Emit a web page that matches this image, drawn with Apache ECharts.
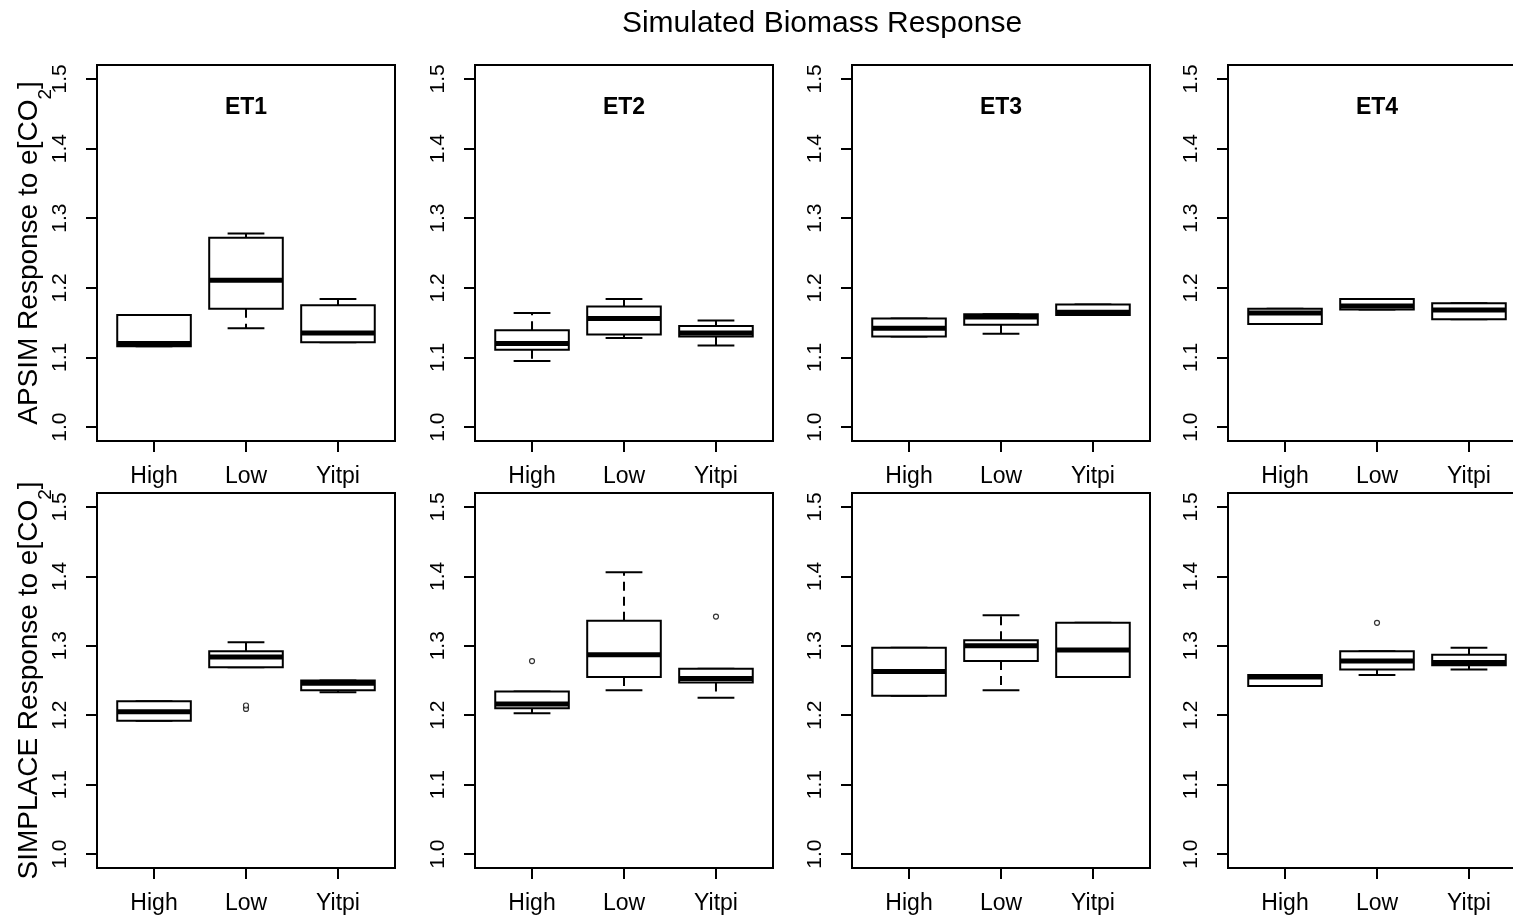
<!DOCTYPE html>
<html>
<head>
<meta charset="utf-8">
<title>Simulated Biomass Response</title>
<script src="https://cdn.jsdelivr.net/npm/echarts@6/dist/echarts.min.js"></script>
<style>
html, body { margin: 0; padding: 0; background: #fff; }
#main { width: 1513px; height: 923px; }
</style>
</head>
<body>
<div id="main"></div>
<script>
//画布
let chart = echarts.init(document.getElementById('main'));

//分组与面板
let groups = ['High', 'Low', 'Yitpi'];
let panels = ['ET1', 'ET2', 'ET3', 'ET4'];
let yTicks = [1.0, 1.1, 1.2, 1.3, 1.4, 1.5];

//箱线 [min, q1, median, q3, max]，每组一行
let apsimET1 = [[1.116, 1.116, 1.120, 1.161, 1.161], [1.142, 1.170, 1.211, 1.272, 1.278], [1.122, 1.122, 1.135, 1.175, 1.184]];
let apsimET2 = [[1.095, 1.111, 1.120, 1.139, 1.164], [1.128, 1.133, 1.156, 1.173, 1.184], [1.117, 1.130, 1.135, 1.145, 1.153]];
let apsimET3 = [[1.130, 1.130, 1.142, 1.156, 1.156], [1.134, 1.147, 1.158, 1.162, 1.162], [1.161, 1.161, 1.165, 1.176, 1.176]];
let apsimET4 = [[1.148, 1.148, 1.164, 1.170, 1.170], [1.169, 1.169, 1.174, 1.184, 1.184], [1.155, 1.155, 1.168, 1.178, 1.178]];
let simplaceET1 = [[1.192, 1.192, 1.205, 1.220, 1.220], [1.269, 1.269, 1.284, 1.292, 1.305], [1.233, 1.236, 1.246, 1.250, 1.250]];
let simplaceET2 = [[1.203, 1.210, 1.216, 1.234, 1.234], [1.236, 1.255, 1.287, 1.336, 1.406], [1.225, 1.247, 1.253, 1.267, 1.267]];
let simplaceET3 = [[1.228, 1.228, 1.263, 1.297, 1.297], [1.236, 1.278, 1.300, 1.308, 1.344], [1.255, 1.255, 1.294, 1.333, 1.333]];
let simplaceET4 = [[1.242, 1.242, 1.255, 1.258, 1.258], [1.258, 1.266, 1.278, 1.292, 1.292], [1.266, 1.272, 1.276, 1.287, 1.297]];

//离群点 [组序号, 值]
let simplaceET1Out = [[1, 1.209], [1, 1.214]];
let simplaceET2Out = [[0, 1.278], [2, 1.342]];
let simplaceET3Out = [];
let simplaceET4Out = [[1, 1.333]];
let noOut = [];

let rows = [
    {name: 'APSIM', boxes: [apsimET1, apsimET2, apsimET3, apsimET4], outs: [noOut, noOut, noOut, noOut]},
    {name: 'SIMPLACE', boxes: [simplaceET1, simplaceET2, simplaceET3, simplaceET4], outs: [simplaceET1Out, simplaceET2Out, simplaceET3Out, simplaceET4Out]}
];

//布局
let lefts = [97, 475, 852, 1228];
let tops = [65, 493];
let heights = [376, 375];
let plotWidth = 298;
let font = 'Liberation Sans, Arial, sans-serif';

//R风格箱线
function renderBox(params, api) {
    let x = api.value(0);
    let pLo = api.coord([x, api.value(1)]);
    let pQ1 = api.coord([x, api.value(2)]);
    let pMed = api.coord([x, api.value(3)]);
    let pQ3 = api.coord([x, api.value(4)]);
    let pHi = api.coord([x, api.value(5)]);
    let half = api.size([0.8, 0])[0] / 2;
    let staple = half / 2;
    let cx = pMed[0];
    let solid = {stroke: '#000', lineWidth: 2};
    let dash = {stroke: '#000', lineWidth: 2, lineDash: [9, 6]};
    return {
        type: 'group',
        children: [
            {type: 'line', shape: {x1: cx, y1: pQ3[1], x2: cx, y2: pHi[1]}, style: dash},
            {type: 'line', shape: {x1: cx, y1: pQ1[1], x2: cx, y2: pLo[1]}, style: dash},
            {type: 'line', shape: {x1: cx - staple, y1: pHi[1], x2: cx + staple, y2: pHi[1]}, style: solid},
            {type: 'line', shape: {x1: cx - staple, y1: pLo[1], x2: cx + staple, y2: pLo[1]}, style: solid},
            {type: 'rect', shape: {x: cx - half, y: pQ3[1], width: half * 2, height: pQ1[1] - pQ3[1]}, style: {fill: '#fff', stroke: '#000', lineWidth: 2}},
            {type: 'line', shape: {x1: cx - half, y1: pMed[1], x2: cx + half, y2: pMed[1]}, style: {stroke: '#000', lineWidth: 5}}
        ]
    };
}

let grid = [], xAxis = [], yAxis = [], series = [];
let title = [{
    text: 'Simulated Biomass Response',
    left: 822, top: 9, textAlign: 'center', padding: 0,
    textStyle: {fontFamily: font, fontSize: 30, fontWeight: 'normal', color: '#000'}
}];

rows.forEach(function (row, r) {
    for (let c = 0; c < 4; c++) {
        let idx = r * 4 + c;
        grid.push({
            left: lefts[c], top: tops[r], width: plotWidth, height: heights[r],
            show: true, borderColor: '#000', borderWidth: 2, backgroundColor: 'transparent',
            containLabel: false, outerBoundsMode: 'none'
        });
        xAxis.push({
            type: 'value', gridIndex: idx, min: 0.38, max: 3.62,
            axisLine: {show: false},
            splitLine: {show: false},
            axisTick: {customValues: [1, 2, 3], length: 11, lineStyle: {color: '#000', width: 2}},
            axisLabel: {
                customValues: [1, 2, 3], margin: 24, color: '#000',
                fontFamily: font, fontSize: 23,
                formatter: function (v) { return groups[Math.round(v) - 1]; }
            }
        });
        let y = {
            type: 'value', gridIndex: idx, min: 0.98, max: 1.52,
            axisLine: {show: false},
            splitLine: {show: false},
            axisTick: {customValues: yTicks, length: 11, lineStyle: {color: '#000', width: 2}},
            axisLabel: {
                customValues: yTicks, rotate: 90, margin: 26, color: '#000',
                fontFamily: font, fontSize: 21,
                formatter: function (v) { return v.toFixed(1); }
            }
        };
        if (c == 0) {
            y.name = '{m|' + row.name + ' Response to e[CO}{s|2}{m|]}';
            y.nameLocation = 'middle';
            y.nameRotate = 90;
            y.nameGap = 50;
            y.nameMoveOverlap = false;
            y.nameTextStyle = {
                fontFamily: font, color: '#000',
                rich: {
                    m: {fontFamily: font, fontSize: 28, color: '#000', lineHeight: 32, verticalAlign: 'top'},
                    s: {fontFamily: font, fontSize: 19, color: '#000', lineHeight: 19, verticalAlign: 'top', padding: [21, 0, 0, 0]}
                }
            };
        }
        yAxis.push(y);

        series.push({
            type: 'custom', xAxisIndex: idx, yAxisIndex: idx,
            renderItem: renderBox,
            encode: {x: 0, y: [1, 2, 3, 4, 5]},
            data: row.boxes[c].map(function (b, i) { return [i + 1].concat(b); }),
            silent: true, animation: false
        });
        series.push({
            type: 'scatter', xAxisIndex: idx, yAxisIndex: idx,
            symbol: 'circle', symbolSize: 5,
            itemStyle: {color: '#fff', borderColor: '#000', borderWidth: 1.2},
            data: row.outs[c].map(function (o) { return [o[0] + 1, o[1]]; }),
            silent: true, animation: false
        });

        if (r == 0) {
            title.push({
                text: panels[c],
                left: lefts[c] + plotWidth / 2, top: 96, textAlign: 'center', padding: 0,
                textStyle: {fontFamily: font, fontSize: 23, fontWeight: 'bold', color: '#000'}
            });
        }
    }
});

chart.setOption({
    backgroundColor: '#fff',
    animation: false,
    title: title,
    grid: grid,
    xAxis: xAxis,
    yAxis: yAxis,
    series: series
});
</script>
</body>
</html>
